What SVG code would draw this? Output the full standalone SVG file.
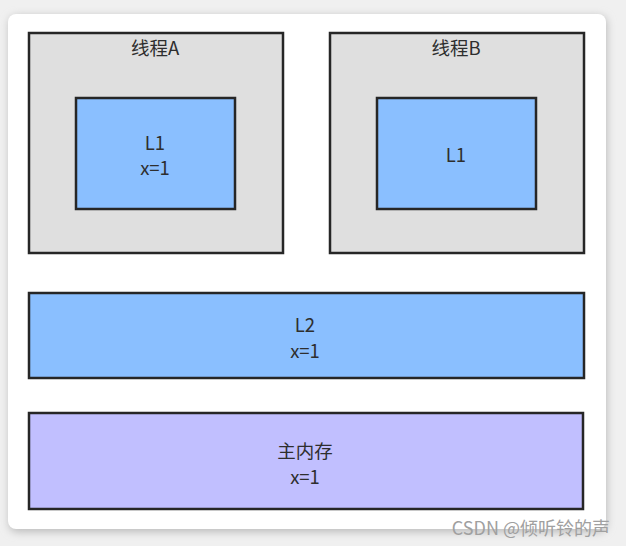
<svg xmlns="http://www.w3.org/2000/svg" width="626" height="546" viewBox="0 0 626 546">
<defs>
<filter id="sh" x="-5%" y="-5%" width="110%" height="110%"><feGaussianBlur stdDeviation="4"/></filter>
<style>
.box{stroke:#262626;stroke-width:2.5}
.t{font-family:"Noto Sans CJK SC","Noto Sans",sans-serif;font-size:18.5px;fill:#2e2e2e;text-anchor:middle}
.gray{fill:#dfdfdf}.blue{fill:#8abfff}.purple{fill:#c1bfff}
</style>
</defs>
<rect width="626" height="546" fill="#f0f0f0"/>
<rect x="9" y="16" width="598" height="516" rx="8" fill="#bbbbbb" filter="url(#sh)"/>
<rect x="8" y="14" width="598" height="515" rx="8" fill="#ffffff"/>
<g id="threadA">
<rect class="box gray" x="29" y="33" width="254" height="220"/>
<text class="t" x="155" y="55">线程A</text>
</g>
<g id="L1A">
<rect class="box blue" x="76" y="98" width="159" height="111"/>
<text class="t" x="155" y="150">L1</text>
<text class="t" x="155" y="175">x=1</text>
</g>
<g id="threadB">
<rect class="box gray" x="330" y="33" width="254" height="220"/>
<text class="t" x="456" y="55">线程B</text>
</g>
<g id="L1B">
<rect class="box blue" x="377" y="98" width="159" height="111"/>
<text class="t" x="456" y="162">L1</text>
</g>
<g id="L2">
<rect class="box blue" x="29" y="293" width="555" height="85"/>
<text class="t" x="305" y="332">L2</text>
<text class="t" x="305" y="358">x=1</text>
</g>
<g id="mainMem">
<rect class="box purple" x="29" y="413" width="554" height="96"/>
<text class="t" x="305" y="458">主内存</text>
<text class="t" x="305" y="484">x=1</text>
</g>
<g id="connectors"/>
<text x="610" y="535" style="font-family:'Noto Sans CJK SC','Noto Sans',sans-serif;font-size:18px;fill:#a0a0a0;text-anchor:end">CSDN @倾听铃的声</text>
</svg>
